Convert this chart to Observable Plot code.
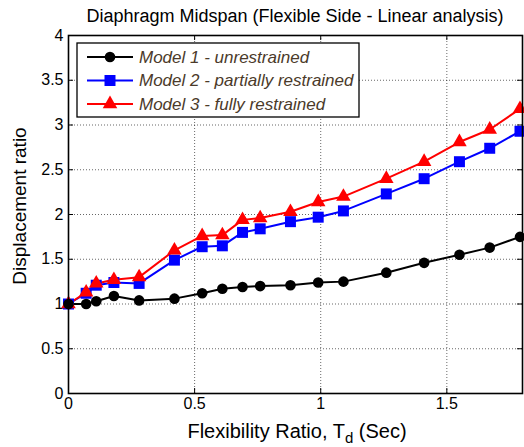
<!DOCTYPE html>
<html>
<head>
<meta charset="utf-8">
<script src="https://cdn.jsdelivr.net/npm/d3@7"></script>
<script src="https://cdn.jsdelivr.net/npm/@observablehq/plot@0.6"></script>
<style>
  html, body { margin: 0; padding: 0; background: #fff; }
  #chart svg { display: block; }
</style>
</head>
<body>
<div id="chart"></div>
<script>
// Flexibility ratio T_d (sec) shared by all three models
const flexibility = [0, 0.07, 0.11, 0.18, 0.28, 0.42, 0.53, 0.61, 0.69, 0.76, 0.88, 0.99, 1.09, 1.26, 1.41, 1.55, 1.67, 1.79];

// Displacement ratio at the diaphragm midspan, flexible side
const model1 = [1.0, 1.0, 1.03, 1.09, 1.04, 1.06, 1.12, 1.17, 1.19, 1.20, 1.21, 1.24, 1.25, 1.35, 1.46, 1.55, 1.63, 1.75];
const model2 = [1.0, 1.12, 1.21, 1.24, 1.23, 1.49, 1.64, 1.65, 1.80, 1.84, 1.92, 1.97, 2.04, 2.23, 2.40, 2.59, 2.74, 2.93];
const model3 = [1.0, 1.13, 1.23, 1.27, 1.30, 1.60, 1.76, 1.77, 1.94, 1.96, 2.03, 2.14, 2.20, 2.40, 2.59, 2.81, 2.95, 3.18];

const seriesNames = ["Model 1 - unrestrained", "Model 2 - partially restrained", "Model 3 - fully restrained"];
const seriesColors = ["#000000", "#0000ff", "#ff0000"];
const seriesSymbols = ["circle", "square", "triangle"];
const seriesRadius = [5.3, 6.2, 5.4];

const xTicks = [0, 0.5, 1, 1.5];
const yTicks = [0, 0.5, 1, 1.5, 2, 2.5, 3, 3.5, 4];

const rows = [model1, model2, model3].flatMap((vals, i) =>
  vals.map((v, j) => ({model: seriesNames[i], idx: i, t: flexibility[j], ratio: v}))
);

const W = 524, H = 447;
const mL = 68, mR = 2, mT = 35, mB = 54;
const fw = W - mL - mR, fh = H - mT - mB;
const tick = 5;
const font = "'Liberation Sans', Arial, sans-serif";

const grid = {stroke: "#000", strokeOpacity: 0.75, strokeWidth: 0.8, strokeDasharray: "1,2"};

const chart = Plot.plot({
  width: W, height: H,
  marginLeft: mL, marginRight: mR, marginTop: mT, marginBottom: mB,
  style: {fontFamily: font, fontSize: "16px", color: "#000", background: "#fff"},
  x: {domain: [0, 1.8]},
  y: {domain: [0, 4]},
  marks: [
    Plot.gridX(xTicks, grid),
    Plot.gridY(yTicks, grid),
    // inward tick marks on all four sides
    Plot.ruleX(xTicks, {stroke: "#000", strokeWidth: 1, insetTop: fh - tick}),
    Plot.ruleX(xTicks, {stroke: "#000", strokeWidth: 1, insetBottom: fh - tick}),
    Plot.ruleY(yTicks, {stroke: "#000", strokeWidth: 1, insetRight: fw - tick}),
    Plot.ruleY(yTicks, {stroke: "#000", strokeWidth: 1, insetLeft: fw - tick}),
    Plot.axisX(xTicks, {tickSize: 0, tickPadding: 4, fontSize: 16, label: null, tickFormat: d => String(d)}),
    Plot.axisY(yTicks, {tickSize: 0, tickPadding: 5, fontSize: 16, label: null, tickFormat: d => String(d)}),
    Plot.line(rows, {x: "t", y: "ratio", z: "model", stroke: d => seriesColors[d.idx], strokeWidth: 2}),
    Plot.dot(rows, {
      x: "t", y: "ratio",
      symbol: d => seriesSymbols[d.idx],
      fill: d => seriesColors[d.idx],
      r: d => seriesRadius[d.idx],
      stroke: "none"
    }),
    Plot.frame({stroke: "#000", strokeWidth: 1.6})
  ],
  symbol: {type: "identity"},
  r: {type: "identity"}
});

const svg = d3.select(chart);

// title
svg.append("text")
  .attr("x", mL + fw / 2).attr("y", 22)
  .attr("text-anchor", "middle")
  .attr("font-family", font).attr("font-size", 18)
  .text("Diaphragm Midspan (Flexible Side - Linear analysis)");

// x-axis label with subscript
const xl = svg.append("text")
  .attr("x", mL + fw / 2 + 2).attr("y", 438)
  .attr("text-anchor", "middle")
  .attr("font-family", font).attr("font-size", 20);
xl.append("tspan").text("Flexibility Ratio, T");
xl.append("tspan").attr("font-size", 15).attr("dy", 5).text("d");
xl.append("tspan").attr("dy", -5).text(" (Sec)");

// y-axis label
svg.append("text")
  .attr("transform", `translate(26,${mT + fh / 2 - 8}) rotate(-90)`)
  .attr("text-anchor", "middle")
  .attr("font-family", font).attr("font-size", 19)
  .text("Displacement ratio");

// legend
const lg = svg.append("g");
lg.append("rect")
  .attr("x", 77).attr("y", 43).attr("width", 282).attr("height", 74)
  .attr("fill", "#fff").attr("stroke", "#000").attr("stroke-width", 1.3);
const symGen = {circle: d3.symbolCircle, square: d3.symbolSquare, triangle: d3.symbolTriangle};
seriesNames.forEach((name, i) => {
  const cy = 57 + i * 23.5;
  lg.append("line")
    .attr("x1", 87).attr("x2", 133).attr("y1", cy).attr("y2", cy)
    .attr("stroke", seriesColors[i]).attr("stroke-width", 2);
  lg.append("path")
    .attr("transform", `translate(110,${cy})`)
    .attr("d", d3.symbol(symGen[seriesSymbols[i]], Math.PI * seriesRadius[i] ** 2)())
    .attr("fill", seriesColors[i]);
  lg.append("text")
    .attr("x", 139).attr("y", cy).attr("dy", "0.35em")
    .attr("text-anchor", "start")
    .attr("font-family", font).attr("font-size", 17).attr("font-style", "italic")
    .attr("fill", "#4b3a2a")
    .text(name);
});

document.getElementById("chart").appendChild(chart);
</script>
</body>
</html>
